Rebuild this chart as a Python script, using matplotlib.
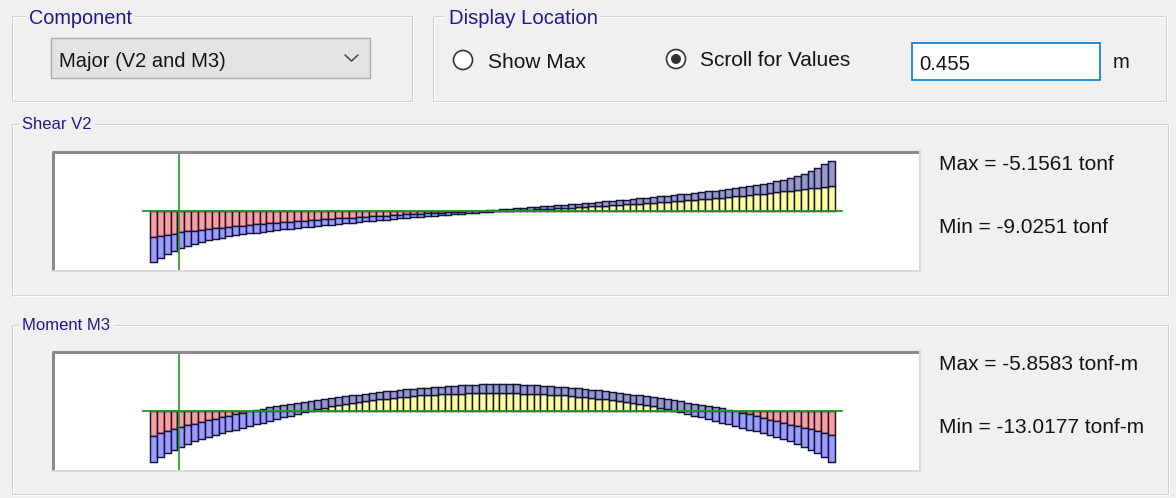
import numpy as np
import matplotlib
matplotlib.use("Agg")
import matplotlib.pyplot as plt
from matplotlib.patches import Rectangle, Circle

# ---------------- data ----------------
beam_length = 10.64          # m
n_segments = 100
scroll_location = 0.455      # m

shear_max = [
    -6.25, -6.05, -5.8, -5.52, -5.2, -4.98, -4.78, -4.58, -4.4, -4.22,
    -4.05, -3.88, -3.72, -3.56, -3.41, -3.26, -3.12, -2.98, -2.85, -2.72,
    -2.6, -2.48, -2.36, -2.24, -2.13, -2.02, -1.91, -1.8, -1.7, -1.6,
    -1.5, -1.4, -1.3, -1.2, -1.1, -1.0, -0.91, -0.82, -0.73, -0.64,
    -0.55, -0.47, -0.39, -0.31, -0.23, -0.15, -0.07, 0.02, 0.12, 0.23,
    0.35, 0.48, 0.6, 0.72, 0.83, 0.94, 1.05, 1.17, 1.3, 1.43,
    1.56, 1.7, 1.82, 1.94, 2.06, 2.18, 2.32, 2.48, 2.64, 2.8,
    2.96, 3.12, 3.28, 3.44, 3.6, 3.76, 3.92, 4.08, 4.24, 4.4,
    4.58, 4.76, 4.95, 5.15, 5.36, 5.58, 5.8, 6.05, 6.3, 6.6,
    6.9, 7.25, 7.6, 8.0, 8.5, 9.05, 9.7, 10.5, 11.4, 12.2,
]
shear_min = [
    -12.4, -11.5, -10.6, -9.8, -9.1, -8.5, -8.0, -7.55, -7.15, -6.8,
    -6.5, -6.2, -5.95, -5.7, -5.48, -5.26, -5.05, -4.85, -4.66, -4.48,
    -4.3, -4.13, -3.96, -3.8, -3.64, -3.48, -3.32, -3.16, -3.0, -2.85,
    -2.7, -2.55, -2.4, -2.25, -2.1, -1.95, -1.82, -1.69, -1.56, -1.43,
    -1.3, -1.17, -1.05, -0.94, -0.83, -0.72, -0.6, -0.48, -0.36, -0.24,
    -0.12, -0.02, 0.07, 0.15, 0.23, 0.31, 0.39, 0.47, 0.55, 0.64,
    0.73, 0.82, 0.91, 1.0, 1.1, 1.2, 1.3, 1.4, 1.5, 1.6,
    1.7, 1.8, 1.91, 2.02, 2.13, 2.24, 2.36, 2.48, 2.6, 2.72,
    2.85, 2.98, 3.12, 3.26, 3.41, 3.56, 3.72, 3.88, 4.05, 4.22,
    4.4, 4.58, 4.78, 4.98, 5.15, 5.3, 5.5, 5.7, 5.9, 6.1,
]
moment_max = [
    -9.3, -8.45, -7.65, -6.9, -6.15, -5.45, -4.78, -4.12, -3.5, -2.9,
    -2.32, -1.76, -1.2, -0.66, -0.12, 0.4, 0.92, 1.42, 1.9, 2.32,
    2.72, 3.1, 3.46, 3.82, 4.18, 4.54, 4.9, 5.25, 5.58, 5.9,
    6.2, 6.5, 6.8, 7.08, 7.36, 7.62, 7.88, 8.12, 8.36, 8.58,
    8.8, 9.0, 9.18, 9.36, 9.52, 9.67, 9.8, 9.92, 10.02, 10.1,
    10.12, 10.12, 10.08, 10.02, 9.94, 9.84, 9.72, 9.58, 9.42, 9.24,
    9.04, 8.82, 8.58, 8.34, 8.08, 7.8, 7.5, 7.2, 6.88, 6.56,
    6.22, 5.88, 5.52, 5.16, 4.78, 4.4, 4.0, 3.6, 3.18, 2.76,
    2.32, 1.88, 1.42, 0.95, 0.47, -0.02, -0.6, -1.2, -1.85, -2.55,
    -3.25, -3.9, -4.5, -5.1, -5.7, -6.3, -6.9, -7.55, -8.3, -9.2,
]
moment_min = [
    -19.1, -17.5, -16.0, -14.7, -13.5, -12.45, -11.5, -10.65, -9.85, -9.1,
    -8.4, -7.72, -7.05, -6.38, -5.72, -5.06, -4.4, -3.74, -3.08, -2.42,
    -1.76, -1.1, -0.46, 0.16, 0.74, 1.28, 1.78, 2.24, 2.66, 3.05,
    3.42, 3.77, 4.1, 4.41, 4.7, 4.97, 5.22, 5.45, 5.66, 5.85,
    6.02, 6.17, 6.3, 6.41, 6.5, 6.57, 6.62, 6.65, 6.67, 6.68,
    6.68, 6.67, 6.65, 6.62, 6.57, 6.5, 6.41, 6.3, 6.17, 6.02,
    5.85, 5.66, 5.45, 5.22, 4.97, 4.7, 4.41, 4.1, 3.77, 3.42,
    3.05, 2.66, 2.24, 1.78, 1.28, 0.74, 0.16, -0.46, -1.1, -1.76,
    -2.42, -3.08, -3.74, -4.4, -5.06, -5.72, -6.38, -7.05, -7.72, -8.4,
    -9.1, -9.85, -10.65, -11.5, -12.45, -13.5, -14.7, -16.0, -17.5, -19.1,
]

shear_labels = ["Max = -5.1561 tonf", "Min = -9.0251 tonf"]
moment_labels = ["Max = -5.8583 tonf-m", "Min = -13.0177 tonf-m"]

# ---------------- style ----------------
FONT = "Liberation Sans"
BG = "#f0f0f0"
TITLE_C = "#1c1c8a"
TXT_C = "#141414"
RED = "#ff9c9c"
YEL = "#ffff9c"
BAND_NEG = "#9c9cff"
BAND_POS = "#9898c8"
EDGE = "#12123a"
GREEN = "#1f9a1f"

W, H = 1176, 498
fig = plt.figure(figsize=(W / 100, H / 100), dpi=100)
fig.patch.set_facecolor(BG)

bg = fig.add_axes([0, 0, 1, 1], zorder=0)
bg.set_xlim(0, W)
bg.set_ylim(H, 0)
bg.axis("off")
bg.set_facecolor(BG)


def groupbox(x0, y0, x1, y1, title, tx, tsize, tbase):
    bg.add_patch(Rectangle((x0 + 1, y0 + 1), x1 - x0, y1 - y0, fill=False,
                           edgecolor="white", lw=0.8))
    bg.add_patch(Rectangle((x0, y0), x1 - x0, y1 - y0, fill=False,
                           edgecolor="#d2d2d2", lw=0.8))
    bg.text(tx, tbase, title, color=TITLE_C, fontsize=tsize, family=FONT,
            va="baseline", ha="left",
            bbox=dict(facecolor=BG, edgecolor="none", pad=2.5))


groupbox(12, 16, 412, 101, "Component", 29, 14.3, 24.3)
groupbox(433, 16, 1166, 101, "Display Location", 449, 14.6, 24.3)
groupbox(12, 124, 1168, 295, "Shear V2", 22, 12.0, 129)
groupbox(12, 325, 1168, 494, "Moment M3", 22, 12.0, 330)

# combo box
bg.add_patch(Rectangle((51, 38), 319, 40, facecolor="#e3e3e3",
                       edgecolor="#adadad", lw=1.0))
bg.text(59, 66.5, "Major (V2 and M3)", color=TXT_C, fontsize=14.5,
        family=FONT, va="baseline")
bg.plot([345, 351.5, 358], [55, 61, 55], color="#444444", lw=1.1,
        solid_capstyle="round")

# radio buttons
bg.add_patch(Circle((463, 60), 9.5, facecolor="white", edgecolor="#333333",
                    lw=1.2))
bg.text(488, 68, "Show Max", color=TXT_C, fontsize=15, family=FONT,
        va="baseline")
bg.add_patch(Circle((676, 59), 9.5, facecolor="white", edgecolor="#333333",
                    lw=1.2))
bg.add_patch(Circle((676, 59), 5, facecolor="#333333", edgecolor="none"))
bg.text(700, 66, "Scroll for Values", color=TXT_C, fontsize=15,
        family=FONT, va="baseline")

# text box
bg.add_patch(Rectangle((912, 43), 188, 37, facecolor="white",
                       edgecolor="#0078d7", lw=1.2))
bg.text(919, 70, f"{scroll_location:.3f}", color=TXT_C, fontsize=14.6,
        family=FONT, va="baseline")
bg.text(1113, 68, "m", color=TXT_C, fontsize=14.6, family=FONT,
        va="baseline")

# value labels
for lab, yb in zip(shear_labels, [170, 233.3]):
    bg.text(939, yb, lab, color=TXT_C, fontsize=15, family=FONT,
            va="baseline")
for lab, yb in zip(moment_labels, [370, 433.3]):
    bg.text(939, yb, lab, color=TXT_C, fontsize=15, family=FONT,
            va="baseline")

# ---------------- diagrams ----------------
px_per_m = 685.0 / beam_length
x0_px = 150.0
seg = beam_length / n_segments
xs = np.arange(n_segments) * seg


def diagram(box, vmax, vmin, px_per_unit):
    bx0, by0, bx1, by1 = box
    ax = fig.add_axes([bx0 / W, 1 - by1 / H, (bx1 - bx0) / W, (by1 - by0) / H],
                      zorder=1)
    ax.set_facecolor("white")
    ax.set_xlim((bx0 - x0_px) / px_per_m, (bx1 - x0_px) / px_per_m)
    half = (by1 - by0) / 2 / px_per_unit
    ax.set_ylim(-half, half)
    ax.set_xticks([])
    ax.set_yticks([])
    for s in ax.spines.values():
        s.set_visible(False)

    hi = np.asarray(vmax)
    lo = np.asarray(vmin)
    kw = dict(width=seg, align="edge", edgecolor=EDGE, linewidth=1.05)

    m = lo > 0
    ax.bar(xs[m], lo[m], bottom=0, color=YEL, **kw)
    m = hi < 0
    ax.bar(xs[m], hi[m], bottom=0, color=RED, **kw)

    bp_lo = np.maximum(lo, 0)
    bp_hi = np.maximum(hi, 0)
    m = bp_hi > bp_lo
    ax.bar(xs[m], (bp_hi - bp_lo)[m], bottom=bp_lo[m], color=BAND_POS, **kw)
    bn_lo = np.minimum(lo, 0)
    bn_hi = np.minimum(hi, 0)
    m = bn_hi > bn_lo
    ax.bar(xs[m], (bn_hi - bn_lo)[m], bottom=bn_lo[m], color=BAND_NEG, **kw)

    ax.plot([-seg, beam_length + seg], [0, 0], color=GREEN, lw=1.3,
            zorder=5)
    ax.axvline(scroll_location, color=GREEN, lw=1.2, zorder=5)

    # sunken border
    bg2 = fig.add_axes([0, 0, 1, 1], zorder=2)
    bg2.set_xlim(0, W)
    bg2.set_ylim(H, 0)
    bg2.axis("off")
    bg2.patch.set_alpha(0)
    bg2.plot([bx0 + 1, bx0 + 1], [by1, by0 + 1], color="#8a8a8a", lw=2.2,
             solid_capstyle="butt")
    bg2.plot([bx0, bx1], [by0 + 1, by0 + 1], color="#8a8a8a", lw=2.2,
             solid_capstyle="butt")
    bg2.plot([bx1, bx1], [by0, by1], color="#dadada", lw=1.4)
    bg2.plot([bx0, bx1], [by1, by1], color="#dadada", lw=1.4)
    return ax


diagram((52, 151, 920, 271), shear_max, shear_min, 4.1)
diagram((52, 351, 920, 471), moment_max, moment_min, 2.65)

fig.savefig("out.png", dpi=100, facecolor=BG)
